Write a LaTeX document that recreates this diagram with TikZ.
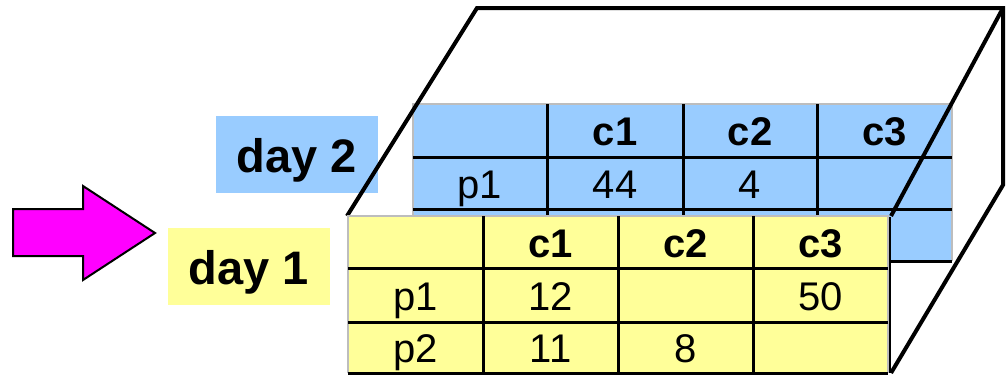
\documentclass[tikz,border=0pt]{standalone}
\usepackage{fontspec}
\setmainfont{Liberation Sans}
\usepackage{xcolor}
\usepackage{tikz}
\usetikzlibrary{positioning}

\definecolor{dayblue}{HTML}{99CCFF}
\definecolor{dayyellow}{HTML}{FFFF99}
\definecolor{edgegray}{HTML}{BDBDBD}
\definecolor{arrowpink}{HTML}{FF00FF}

\begin{document}
\begin{tikzpicture}[
    x=1pt, y=-1pt,
    daytag/.style={rectangle, inner sep=0pt, minimum width=162pt, minimum height=77pt, font=\fontsize{47}{50}\selectfont\bfseries, text height=35pt, text depth=0pt},
    cell/.style={inner sep=0pt, font=\fontsize{40}{44}\selectfont, text height=30pt, text depth=0pt},
    head/.style={cell, font=\fontsize{40}{44}\selectfont\bfseries},
    edge/.style={draw=edgegray, line width=2.5pt},
    grid/.style={draw=black, line width=3pt},
    box/.style={draw=black, line width=4pt, line join=miter}
]
    \useasboundingbox (0,0) rectangle (1007,375);

    % Arrow pointing at day 1
    \filldraw[fill=arrowpink, draw=black, line width=2pt]
        (13,209) -- (83,209) -- (83,186) -- (155,233) -- (83,280) -- (83,256) -- (13,256) -- cycle;

    % Day labels
    \node[daytag, fill=dayblue] (day2) at (297,154.5) {day 2};
    \node[daytag, fill=dayyellow] (day1) at (249,266.5) {day 1};

    % Back table - day 2
    \fill[dayblue] (413,104) rectangle (952,261);
    \draw[edge] (413,261) -- (413,104) -- (952,104) -- (952,261);
    \foreach \y in {157,209,261} \draw[grid] (413,\y) -- (952,\y);
    \foreach \x in {547,683,817} \draw[grid] (\x,104) -- (\x,261);
    \node[head] (b-c1) at (615,130.5) {c1};
    \node[head] (b-c2) at (750,130.5) {c2};
    \node[head] (b-c3) at (884.5,130.5) {c3};
    \node[cell] (b-p1) at (480,183) {p1};
    \node[cell] (b-p1c1) at (615,183) {44};
    \node[cell] (b-p1c2) at (750,183) {4};

    % Cube outline
    \draw[box] (347,216) -- (477,8) -- (1003,8) -- (1003,185) -- (891,373);
    \draw[box] (891,216) -- (1003,8);

    % Front table - day 1
    \fill[dayyellow] (348,216) rectangle (888,373);
    \draw[edge] (348,373) -- (348,216) -- (888,216) -- (888,373);
    \draw[draw=black, line width=2pt] (889.5,217) -- (889.5,373);
    \foreach \y in {268,322,373} \draw[grid] (348,\y) -- (888,\y);
    \foreach \x in {483,618,753} \draw[grid] (\x,216) -- (\x,373);
    \node[head] (f-c1) at (550.5,242) {c1};
    \node[head] (f-c2) at (685.5,242) {c2};
    \node[head] (f-c3) at (820.5,242) {c3};
    \node[cell] (f-p1) at (415.5,295) {p1};
    \node[cell] (f-p1c1) at (550.5,295) {12};
    \node[cell] (f-p1c3) at (820.5,295) {50};
    \node[cell] (f-p2) at (415.5,347.5) {p2};
    \node[cell] (f-p2c1) at (550.5,347.5) {11};
    \node[cell] (f-p2c2) at (685.5,347.5) {8};

\end{tikzpicture}
\end{document}
